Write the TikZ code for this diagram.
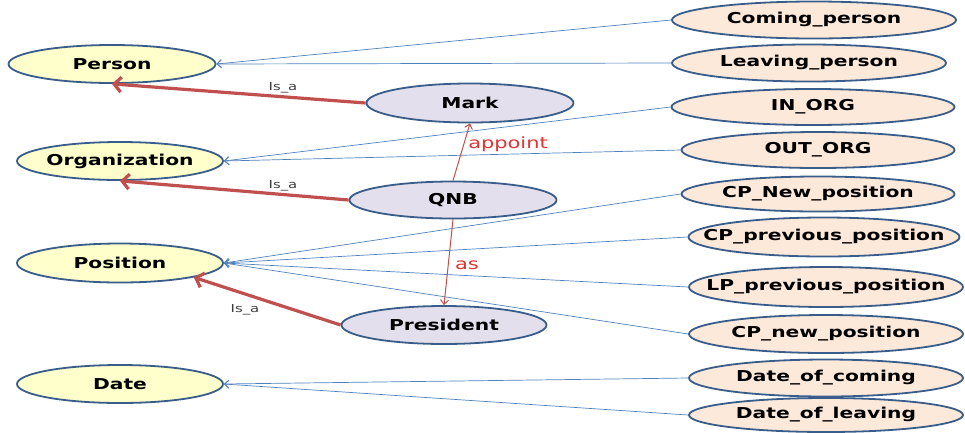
\documentclass[tikz,border=0pt]{standalone}
\usepackage{fontspec}
\setmainfont{DejaVu Sans}[FakeStretch=1.35]
\usetikzlibrary{shapes.geometric,arrows.meta,backgrounds}
\definecolor{bordc}{HTML}{385D8A}
\definecolor{yelf}{HTML}{FFFFCC}
\definecolor{lavf}{HTML}{E4DFEC}
\definecolor{peaf}{HTML}{FDE9D9}
\definecolor{bluel}{HTML}{4F81BD}
\definecolor{redl}{HTML}{C0504D}
\definecolor{redt}{RGB}{222,52,52}
\definecolor{greyt}{HTML}{404040}
\tikzset{
  ell/.style={ellipse, draw=bordc, line width=1.8pt, inner sep=0pt,
    font=\fontsize{15}{18}\selectfont\bfseries, text=black},
  lefte/.style={ell, fill=yelf},
  mide/.style={ell, fill=lavf},
  righte/.style={ell, fill=peaf},
  bluearr/.style={draw=bluel, line width=0.7pt, -{Straight Barb[length=4.5pt,width=8pt]}},
  isaarr/.style={draw=redl, line width=3.2pt, -{Straight Barb[length=7pt,width=15pt]}},
  relarr/.style={draw=redl, line width=1pt, -{Straight Barb[length=4.5pt,width=8pt]}},
  isalab/.style={font=\fontsize{11}{13}\selectfont, text=greyt, inner sep=0pt},
  rellab/.style={font=\fontsize{15.5}{18}\selectfont, text=redt, inner sep=0pt},
}
\newcommand{\zt}[1]{\makebox[0pt]{#1}}
\begin{document}
\begin{tikzpicture}[x=1pt,y=-1pt]
\useasboundingbox (0,0) rectangle (965,432);
% left classes
\node[lefte, minimum width=207, minimum height=38] (person) at (112,64) {\zt{Person}};
\node[lefte, minimum width=206, minimum height=38] (org) at (120,161) {\zt{Organization}};
\node[lefte, minimum width=206, minimum height=39] (pos) at (120,263) {\zt{Position}};
\node[lefte, minimum width=206, minimum height=38] (date) at (120,384) {\zt{Date}};
% middle instances
\node[mide, minimum width=207, minimum height=39] (mark) at (470,103) {\zt{Mark}};
\node[mide, minimum width=207, minimum height=37] (qnb) at (453,200) {\zt{QNB}};
\node[mide, minimum width=205, minimum height=38] (pres) at (444,325) {\zt{President}};
% right attributes
\node[righte, minimum width=284, minimum height=37] (coming) at (814,20) {\zt{Coming\_person}};
\node[righte, minimum width=274, minimum height=37] (leaving) at (809,63) {\zt{Leaving\_person}};
\node[righte, minimum width=283, minimum height=36] (inorg) at (813,107) {\zt{IN\_ORG}};
\node[righte, minimum width=273, minimum height=36] (outorg) at (818,150) {\zt{OUT\_ORG}};
\node[righte, minimum width=273, minimum height=35] (cpnewA) at (818,194) {\zt{CP\_New\_position}};
\node[righte, minimum width=271, minimum height=39] (cpprev) at (824,237) {\zt{CP\_previous\_position}};
\node[righte, minimum width=274, minimum height=40] (lpprev) at (826,287) {\zt{LP\_previous\_position}};
\node[righte, minimum width=274, minimum height=38] (cpnewB) at (826,334) {\zt{CP\_new\_position}};
\node[righte, minimum width=274, minimum height=37] (datec) at (826,378) {\zt{Date\_of\_coming}};
\node[righte, minimum width=274, minimum height=34] (datel) at (826,415) {\zt{Date\_of\_leaving}};
% blue connectors
\begin{scope}[on background layer]
\draw[bluearr] (coming.west) -- (person.east);
\draw[bluearr] (leaving.west) -- (person.east);
\draw[bluearr] (inorg.west) -- (org.east);
\draw[bluearr] (outorg.west) -- (org.east);
\draw[bluearr] (cpnewA.west) -- (pos.east);
\draw[bluearr] (cpprev.west) -- (pos.east);
\draw[bluearr] (lpprev.west) -- (pos.east);
\draw[bluearr] (cpnewB.west) -- (pos.east);
\draw[bluearr] (datec.west) -- (date.east);
\draw[bluearr] (datel.west) -- (date.east);
\end{scope}
% is_a connectors
\draw[isaarr] (mark.west) -- (person.south);
\draw[isaarr] (qnb.west) -- (org.south);
\draw[isaarr] (pres.west) -- (pos.-11);
\node[isalab] (isa1) at (283,88) {Is\_a};
\node[isalab] (isa2) at (283,186) {Is\_a};
\node[isalab] (isa3) at (245,310) {Is\_a};
% relations
\draw[relarr] (qnb.north) -- (mark.south);
\draw[relarr] (qnb.south) -- (pres.north);
\node[rellab] (appoint) at (508,144) {appoint};
\node[rellab] (as) at (467,265) {as};
\end{tikzpicture}
\end{document}
